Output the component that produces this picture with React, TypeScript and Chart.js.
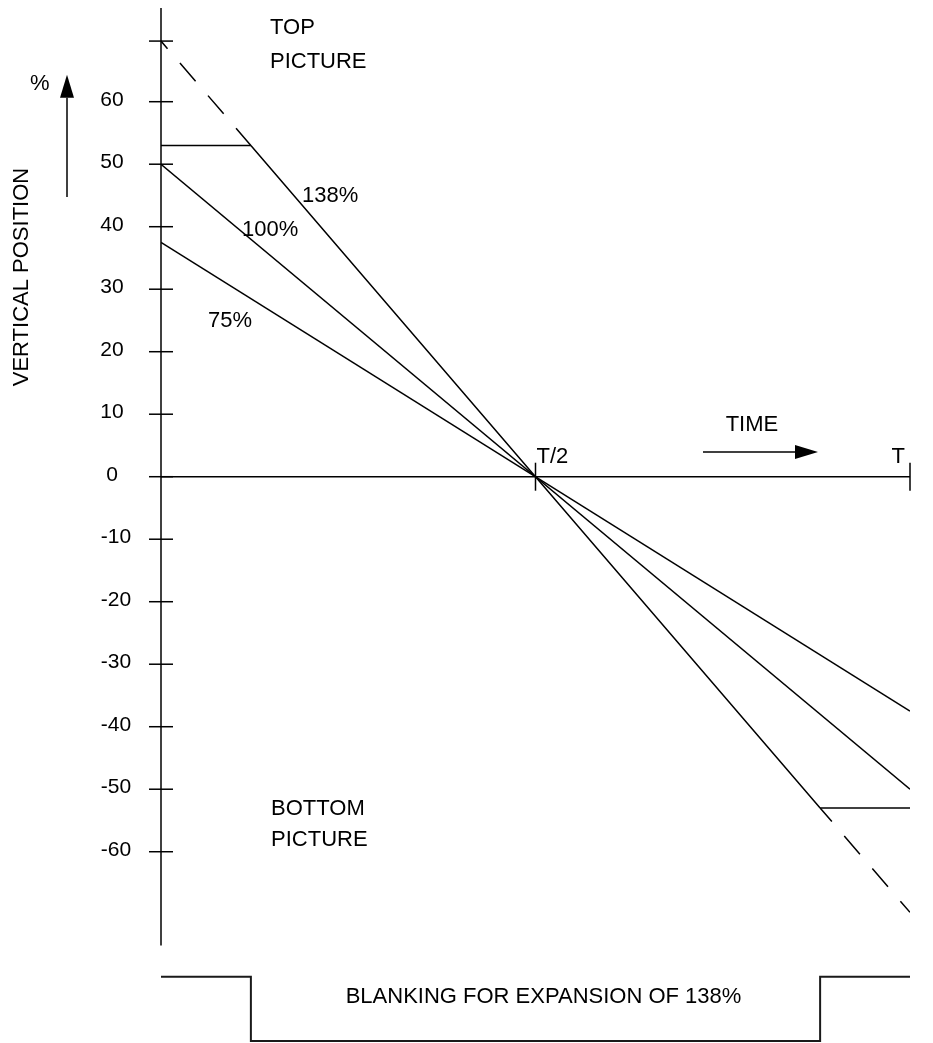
import React, { useEffect, useRef } from "react";
import { Chart, registerables } from "chart.js";

Chart.register(...registerables);

// ---- data (time as fraction of the line period T, position in %) ----
const TIMES_138 = [0, 0.12, 0.5, 0.88, 1];
const VALUES_138 = [69.7, 53, 0, -53, -69.7];
const TIMES_100 = [0, 1];
const VALUES_100 = [50, -50];
const TIMES_75 = [0, 1];
const VALUES_75 = [37.5, -37.5];
const CLIP_TOP_TIMES = [0, 0.12];
const CLIP_TOP_VALUES = [53, 53];
const CLIP_BOTTOM_TIMES = [0.88, 1];
const CLIP_BOTTOM_VALUES = [-53, -53];
const BLANK_TIMES = [0, 0.12, 0.12, 0.88, 0.88, 1];
const BLANK_LEVELS = [1, 1, 0, 0, 1, 1];
const Y_TICKS = [60, 50, 40, 30, 20, 10, 0, -10, -20, -30, -40, -50, -60];
const Y_TICK_LABELS = Y_TICKS.map((v) => String(v));
const X_MARKS = [0.5, 1];
const X_MARK_LABELS = ["T/2", "T"];
const CURVE_LABELS = ["138%", "100%", "75%"];

// ---- annotation placement (data coordinates) ----
const CURVE_LABEL_POS = [
  { t: 0.1883, v: 43.9 },
  { t: 0.1081, v: 38.5 },
  { t: 0.0628, v: 23.95 },
];
const X_MARK_LABEL_POS = [
  { t: 0.5013, v: 2.2, align: "left" },
  { t: 0.9933, v: 2.2, align: "right" },
];
const TEXT_NOTES = [
  { text: "TOP", t: 0.1455, v: 70.8, align: "left" },
  { text: "PICTURE", t: 0.1455, v: 65.4, align: "left" },
  { text: "BOTTOM", t: 0.1469, v: -54.1, align: "left" },
  { text: "PICTURE", t: 0.1469, v: -59.1, align: "left" },
  { text: "TIME", t: 0.789, v: 7.3, align: "center" },
  { text: "%", t: -0.1749, v: 61.9, align: "left" },
];
const Y_AXIS_TITLE = "VERTICAL POSITION";
const BLANK_TITLE = "BLANKING FOR EXPANSION OF 138%";

const FONT = '22px "Liberation Sans", Arial, Helvetica, sans-serif';
const TICK_FONT = '21px "Liberation Sans", Arial, Helvetica, sans-serif';

const pts = (xs: number[], ys: number[]) => xs.map((x, i) => ({ x, y: ys[i] }));

const drawPlugin = {
  id: "schematic",
  afterDraw(chart: any) {
    const ctx = chart.ctx as CanvasRenderingContext2D;
    const xs = chart.scales.x;
    const ys = chart.scales.y;
    const yb = chart.scales.yb;
    const px = (t: number) => xs.getPixelForValue(t);
    const py = (v: number) => ys.getPixelForValue(v);
    const line = (x0: number, y0: number, x1: number, y1: number) => {
      ctx.beginPath();
      ctx.moveTo(x0, y0);
      ctx.lineTo(x1, y1);
      ctx.stroke();
    };
    const arrow = (x0: number, y0: number, x1: number, y1: number) => {
      const len = Math.hypot(x1 - x0, y1 - y0);
      const ux = (x1 - x0) / len;
      const uy = (y1 - y0) / len;
      const head = 23;
      const half = 7;
      const bx = x1 - ux * head;
      const by = y1 - uy * head;
      line(x0, y0, bx, by);
      ctx.beginPath();
      ctx.moveTo(x1, y1);
      ctx.lineTo(bx - uy * half, by + ux * half);
      ctx.lineTo(bx + uy * half, by - ux * half);
      ctx.closePath();
      ctx.fill();
    };

    ctx.save();
    ctx.strokeStyle = "#000";
    ctx.fillStyle = "#000";
    ctx.lineWidth = 1.5;

    // vertical axis
    const ax = px(0);
    line(ax, py(75), ax, py(-75));
    [...Y_TICKS, VALUES_138[0]].forEach((v) => {
      line(ax - 12, py(v), ax + 12, py(v));
    });
    // time axis
    line(ax, py(0), px(1), py(0));
    X_MARKS.forEach((t) => line(px(t), py(0) - 14, px(t), py(0) + 14));

    // tick labels
    ctx.font = TICK_FONT;
    ctx.textAlign = "center";
    ctx.textBaseline = "alphabetic";
    Y_TICKS.forEach((v, i) => {
      ctx.fillText(Y_TICK_LABELS[i], ax - (v < 0 ? 45 : 49), py(v) + 4);
    });

    ctx.font = FONT;
    X_MARK_LABELS.forEach((s, i) => {
      const p = X_MARK_LABEL_POS[i];
      ctx.textAlign = p.align as CanvasTextAlign;
      ctx.fillText(s, px(p.t), py(p.v));
    });
    CURVE_LABELS.forEach((s, i) => {
      const p = CURVE_LABEL_POS[i];
      ctx.textAlign = "left";
      ctx.fillText(s, px(p.t), py(p.v));
    });
    TEXT_NOTES.forEach((n) => {
      ctx.textAlign = n.align as CanvasTextAlign;
      ctx.fillText(n.text, px(n.t), py(n.v));
    });

    // arrows
    arrow(px(-0.1255), py(44.75), px(-0.1255), py(64.3));
    arrow(px(0.7236), py(3.95), px(0.8772), py(3.95));

    // rotated axis title
    ctx.save();
    ctx.translate(px(-0.1776), py(31.95));
    ctx.rotate(-Math.PI / 2);
    ctx.textAlign = "center";
    ctx.textBaseline = "alphabetic";
    ctx.fillText(Y_AXIS_TITLE, 0, 0);
    ctx.restore();

    // blanking caption
    ctx.textAlign = "center";
    ctx.fillText(BLANK_TITLE, px(0.5107), yb.getPixelForValue(0.59));

    ctx.restore();
  },
};

export default function App() {
  const ref = useRef<HTMLCanvasElement | null>(null);

  useEffect(() => {
    document.body.style.margin = "0";
    const canvas = ref.current;
    if (!canvas) return;
    const last = TIMES_138.length - 1;
    const base = {
      borderColor: "#000",
      borderWidth: 1.5,
      pointRadius: 0,
      showLine: true,
      fill: false,
      tension: 0,
    };
    const chart = new Chart(canvas, {
      type: "scatter",
      data: {
        datasets: [
          {
            ...base,
            label: CURVE_LABELS[0],
            data: pts(TIMES_138, VALUES_138),
            segment: {
              borderDash: (c: any) =>
                c.p0DataIndex === 0 || c.p1DataIndex === last ? [24, 19] : undefined,
              borderDashOffset: (c: any) =>
                c.p0DataIndex === 0 ? 14 : c.p1DataIndex === last ? 6 : undefined,
            },
          },
          { ...base, label: CURVE_LABELS[1], data: pts(TIMES_100, VALUES_100) },
          { ...base, label: CURVE_LABELS[2], data: pts(TIMES_75, VALUES_75) },
          { ...base, label: "clip top", data: pts(CLIP_TOP_TIMES, CLIP_TOP_VALUES) },
          { ...base, label: "clip bottom", data: pts(CLIP_BOTTOM_TIMES, CLIP_BOTTOM_VALUES) },
          {
            ...base,
            label: "blanking",
            borderColor: "#1a1a1a",
            borderWidth: 2,
            yAxisID: "yb",
            data: pts(BLANK_TIMES, BLANK_LEVELS),
            clip: false,
          } as any,
        ],
      },
      options: {
        responsive: false,
        animation: false,
        events: [],
        layout: { padding: { left: 161, right: 23, top: 7.95, bottom: 0.65 } },
        scales: {
          x: { type: "linear", min: 0, max: 1, display: false },
          y: { type: "linear", min: -90.5, max: 75, display: false },
          yb: { type: "linear", min: -0.02, max: 16.04, display: false },
        },
        plugins: {
          legend: { display: false },
          title: { display: false },
          tooltip: { enabled: false },
        },
      },
      plugins: [drawPlugin],
    } as any);
    return () => chart.destroy();
  }, []);

  return (
    <canvas
      ref={ref}
      width={933}
      height={1043}
      style={{ display: "block", width: 933, height: 1043 }}
    />
  );
}
